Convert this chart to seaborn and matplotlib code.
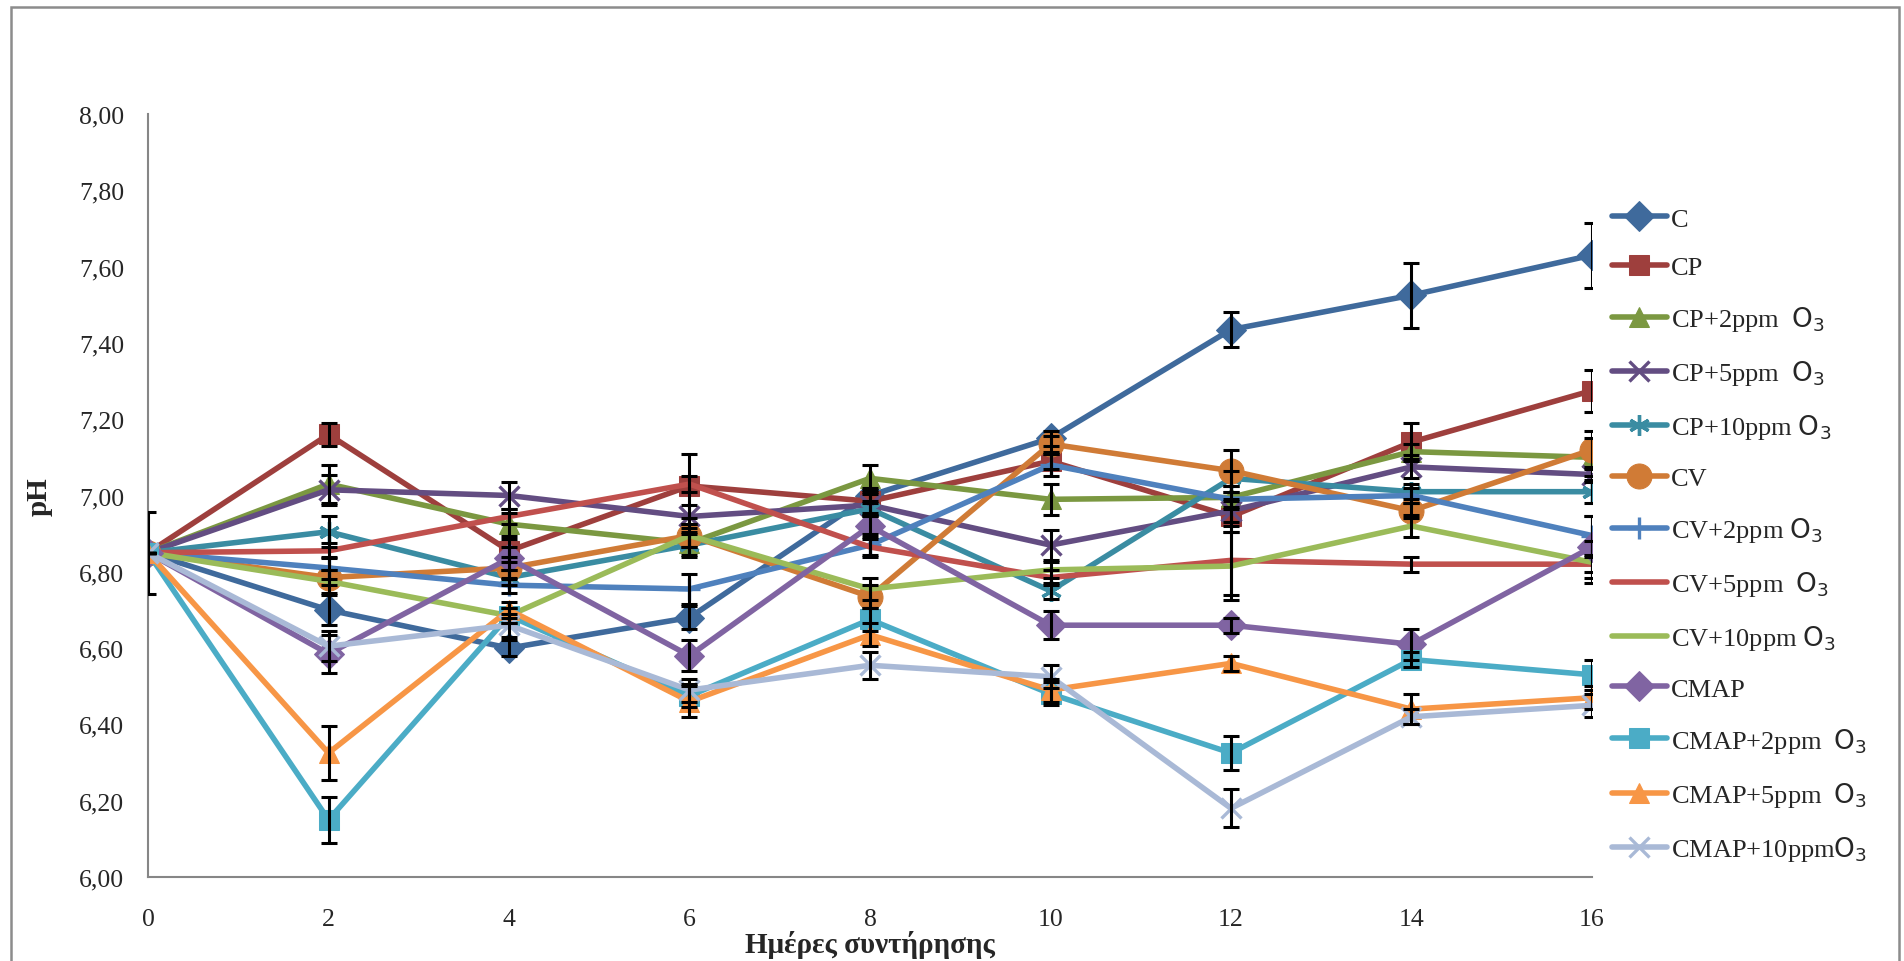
import matplotlib
matplotlib.use("Agg")
import matplotlib.pyplot as plt
from matplotlib.patches import Rectangle
import seaborn as sns
import numpy as np

# Storage days
days = [0, 2, 4, 6, 8, 10, 12, 14, 16]

# Treatment names shown in the legend
series_names = [
    "C", "CP", "CP+2ppm  $\\mathsf{O_3}$", "CP+5ppm  $\\mathsf{O_3}$",
    "CP+10ppm $\\mathsf{O_3}$", "CV", "CV+2ppm $\\mathsf{O_3}$",
    "CV+5ppm  $\\mathsf{O_3}$", "CV+10ppm $\\mathsf{O_3}$", "CMAP",
    "CMAP+2ppm  $\\mathsf{O_3}$", "CMAP+5ppm  $\\mathsf{O_3}$",
    "CMAP+10ppm$\\mathsf{O_3}$",
]

# Mean pH per treatment
ph_C        = [6.85, 6.70, 6.60, 6.68, 7.00, 7.15, 7.435, 7.525, 7.63]
ph_CP       = [6.85, 7.16, 6.855, 7.025, 6.985, 7.09, 6.945, 7.14, 7.275]
ph_CP_2     = [6.85, 7.03, 6.925, 6.875, 7.045, 6.99, 6.995, 7.115, 7.10]
ph_CP_5     = [6.85, 7.015, 7.00, 6.945, 6.975, 6.87, 6.96, 7.075, 7.055]
ph_CP_10    = [6.85, 6.905, 6.785, 6.87, 6.965, 6.75, 7.045, 7.01, 7.01]
ph_CV       = [6.85, 6.785, 6.81, 6.895, 6.735, 7.135, 7.065, 6.96, 7.12]
ph_CV_2     = [6.85, 6.81, 6.765, 6.755, 6.87, 7.08, 6.99, 7.00, 6.895]
ph_CV_5     = [6.85, 6.855, 6.945, 7.03, 6.865, 6.785, 6.83, 6.82, 6.82]
ph_CV_10    = [6.85, 6.775, 6.685, 6.895, 6.755, 6.805, 6.815, 6.92, 6.825]
ph_CMAP     = [6.85, 6.585, 6.835, 6.58, 6.92, 6.66, 6.66, 6.61, 6.865]
ph_CMAP_2   = [6.85, 6.15, 6.685, 6.475, 6.675, 6.48, 6.325, 6.57, 6.53]
ph_CMAP_5   = [6.85, 6.325, 6.70, 6.46, 6.635, 6.49, 6.56, 6.44, 6.47]
ph_CMAP_10  = [6.85, 6.605, 6.66, 6.49, 6.555, 6.525, 6.18, 6.42, 6.45]

# Standard deviations
sd_C        = [0.107, 0.04, 0.02, 0.03, 0.02, 0.02, 0.045, 0.085, 0.085]
sd_CP       = [0, 0.03, 0.03, 0.085, 0.03, 0.02, 0.04, 0.05, 0.055]
sd_CP_2     = [0, 0.05, 0.03, 0.03, 0.035, 0.04, 0.03, 0.02, 0.05]
sd_CP_5     = [0, 0.04, 0.035, 0.03, 0.03, 0.04, 0.03, 0.03, 0.02]
sd_CP_10    = [0, 0.04, 0.02, 0.03, 0.02, 0.02, 0.02, 0.02, 0.03]
sd_CV       = [0, 0.02, 0.03, 0.03, 0.03, 0.02, 0.055, 0.02, 0.05]
sd_CV_2     = [0, 0.03, 0.02, 0.04, 0.03, 0.03, 0.02, 0.02, 0.05]
sd_CV_5     = [0, 0.02, 0.02, 0.02, 0.02, 0.02, 0.09, 0.02, 0.02]
sd_CV_10    = [0, 0.03, 0.02, 0.03, 0.03, 0.02, 0.09, 0.03, 0.055]
sd_CMAP     = [0, 0.05, 0.03, 0.04, 0.03, 0.037, 0.02, 0.04, 0.08]
sd_CMAP_2   = [0, 0.06, 0.02, 0.03, 0.03, 0.03, 0.045, 0.02, 0.04]
sd_CMAP_5   = [0, 0.07, 0.02, 0.04, 0.03, 0.03, 0.02, 0.04, 0.03]
sd_CMAP_10  = [0, 0.04, 0.03, 0.03, 0.035, 0.03, 0.05, 0.02, 0.03]

y_ticks = [6.0, 6.2, 6.4, 6.6, 6.8, 7.0, 7.2, 7.4, 7.6, 7.8, 8.0]
y_tick_labels = ["6,00", "6,20", "6,40", "6,60", "6,80", "7,00", "7,20",
                 "7,40", "7,60", "7,80", "8,00"]

means = [ph_C, ph_CP, ph_CP_2, ph_CP_5, ph_CP_10, ph_CV, ph_CV_2, ph_CV_5,
         ph_CV_10, ph_CMAP, ph_CMAP_2, ph_CMAP_5, ph_CMAP_10]
sds = [sd_C, sd_CP, sd_CP_2, sd_CP_5, sd_CP_10, sd_CV, sd_CV_2, sd_CV_5,
       sd_CV_10, sd_CMAP, sd_CMAP_2, sd_CMAP_5, sd_CMAP_10]

colors = ["#3F6A9C", "#9E3F3D", "#7B9841", "#634D82", "#3A8CA2", "#D07B36",
          "#4F81BD", "#C0504D", "#9BBB59", "#8064A2", "#4BACC6", "#F79646",
          "#A9B9D6"]
asterisk = (6, 2, 0)
markers = ["D", "s", "^", "x", asterisk, "o", "+", None, None, "D", "s", "^", "x"]
msizes = [15, 15, 15, 14, 15, 18, 16, 0, 0, 15, 15, 15, 14]

sns.set_style("white")
plt.rcParams["font.family"] = ["Liberation Serif", "DejaVu Sans"]
plt.rcParams["mathtext.fontset"] = "dejavusans"

fig = plt.figure(figsize=(19.04, 9.62), dpi=100)
ax = fig.add_axes([148 / 1904, 1 - 878 / 962, (1592 - 148) / 1904, (878 - 115) / 962])

for name, m, s, c, mk, ms in zip(series_names, means, sds, colors, markers, msizes):
    kw = dict(color=c, linewidth=4.0, label=name, ax=ax, zorder=2)
    if mk is not None:
        kw.update(marker=mk, markersize=ms, markeredgecolor=c, markerfacecolor=c)
        if mk in ("x", "+") or mk == asterisk:
            kw.update(markeredgewidth=2.4)
    sns.lineplot(x=days, y=m, **kw)
    ax.errorbar(days, m, yerr=s, fmt="none", ecolor="black", elinewidth=2.2,
                capsize=5.5, capthick=2.2, zorder=3)

ax.set_xlim(0, 16)
ax.set_ylim(6.0, 8.0)
ax.set_xticks(days)
ax.set_xticklabels([str(d) for d in days])
ax.set_yticks(y_ticks)
ax.set_yticklabels(y_tick_labels)
ax.tick_params(axis="both", which="major", labelsize=18.5, length=6, width=1.5,
               color="#868686", direction="out")
ax.tick_params(axis="y", pad=11)
ax.tick_params(axis="x", pad=16)
for side in ("top", "right"):
    ax.spines[side].set_visible(False)
for side in ("left", "bottom"):
    ax.spines[side].set_color("#868686")
    ax.spines[side].set_linewidth(1.5)

ax.set_xlabel("Ημέρες συντήρησης", fontsize=21, fontweight="bold", labelpad=0)
ax.set_ylabel("pH", fontsize=21, fontweight="bold", labelpad=19)

if ax.get_legend() is not None:
    ax.get_legend().remove()
h, l = ax.get_legend_handles_labels()
fig.legend(h, l, loc="center left", bbox_to_anchor=(1612 / 1904, 1 - 536 / 962),
           frameon=False, fontsize=19, labelspacing=0.95, handlelength=2.08,
           handletextpad=0.15, borderpad=0, borderaxespad=0)

# outer chart frame
fig.add_artist(Rectangle((11 / 1904, -0.05), (1899 - 11) / 1904, 1.05 - 8 / 962,
                         transform=fig.transFigure, fill=False,
                         edgecolor="#8C8C8C", linewidth=1.8))

fig.savefig("out.png", dpi=100)
